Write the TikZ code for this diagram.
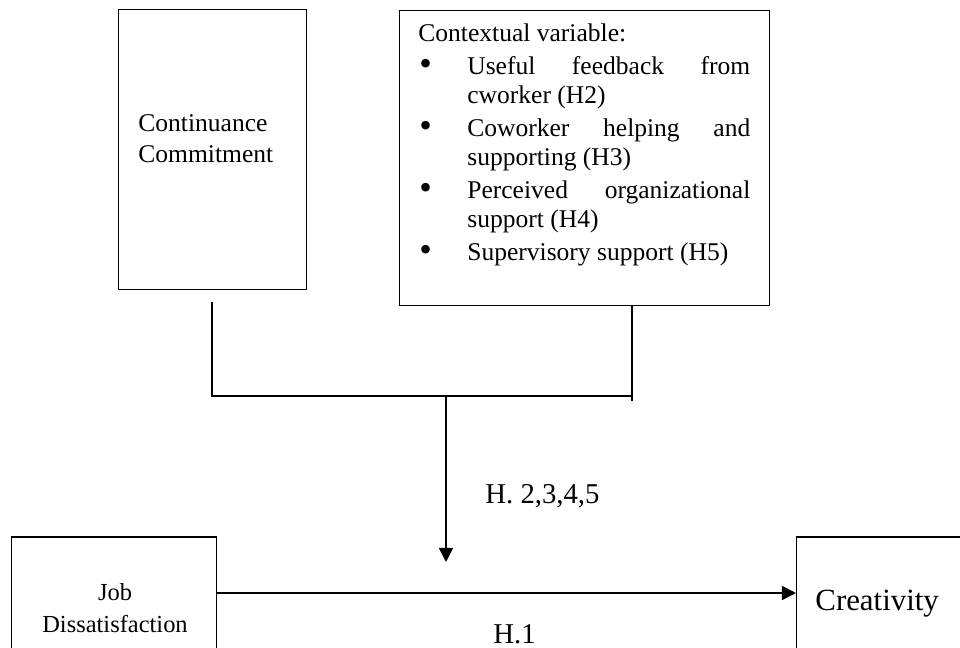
\documentclass[tikz,border=0pt]{standalone}
\usepackage{fontspec}
\setmainfont{Liberation Serif}
\usetikzlibrary{arrows.meta}
\newcommand\ctxitem{\par\hangindent=23pt\hangafter=1\noindent\makebox[23pt][l]{\hspace{.5pt}\raisebox{-.4pt}{\scalebox{1.4}{\textbullet}}}}
\begin{document}
\begin{tikzpicture}[x=.47pt, y=-.47pt, line join=miter, >={Triangle[length=6.6pt,width=6.6pt]}]
	\def\u{0.47pt}
	\tikzset{box/.style={draw, line width=.7pt, inner sep=0pt},
		txt/.style={inner sep=0pt},
		link/.style={line width=.8pt}}
	\useasboundingbox (0,0) rectangle (960,648);
	\clip (0,0) rectangle (960,648);
	% boxes
	\node[box, anchor=north west, minimum width=188*\u, minimum height=280*\u] (cc) at (118,9) {};
	\node[box, anchor=north west, minimum width=370*\u, minimum height=295*\u] (ctx) at (399,10) {};
	\node[box, anchor=west, minimum width=205*\u, minimum height=112*\u] (job) at (11,593) {};
	\node[box, anchor=west, minimum width=200*\u, minimum height=112*\u] (cre) at (796,593) {};
	% texts
	\node[txt, anchor=west, align=left, font=\fontsize{12}{14.6}\selectfont] (cctext) at (138,139) {Continuance\\Commitment};
	\node[txt, anchor=base west, text width=156pt, align=justify, font=\fontsize{12}{13.6}\selectfont] (ctxtext) at (418,42)
		{\setlength{\parskip}{1.9pt}Contextual variable:
		\ctxitem Useful feedback from\linebreak cworker (H2)
		\ctxitem Coworker helping and\linebreak supporting (H3)
		\ctxitem Perceived organizational\linebreak support (H4)
		\ctxitem Supervisory support (H5)\par};
	\node[txt, align=center, font=\fontsize{11.5}{15}\selectfont] (jobtext) at (115,608) {Job\\Dissatisfaction};
	\node[txt, anchor=base west, font=\fontsize{14.5}{17}\selectfont] (cretext) at (815,611) {Creativity};
	% connectors
	\coordinate (ccdrop) at (212,302);
	\coordinate (ctxdrop) at (632,305);
	\coordinate (ctxjoin) at (632,396);
	\coordinate (join) at (446,396);
	\coordinate (tip) at (446,562);
	\draw[link] (ccdrop) |- (ctxjoin);
	\draw[link] (ctxdrop) -- ++(0,96);
	\draw[link, ->] (join) -- (tip);
	\draw[link, ->] (job) -- (cre);
	\node[txt, anchor=base west, font=\fontsize{13.5}{16}\selectfont] (hmod) at (485,504) {H. 2,3,4,5};
	\node[txt, anchor=base west, font=\fontsize{13.5}{16}\selectfont] (hdir) at (493,644) {H.1};
\end{tikzpicture}
\end{document}
